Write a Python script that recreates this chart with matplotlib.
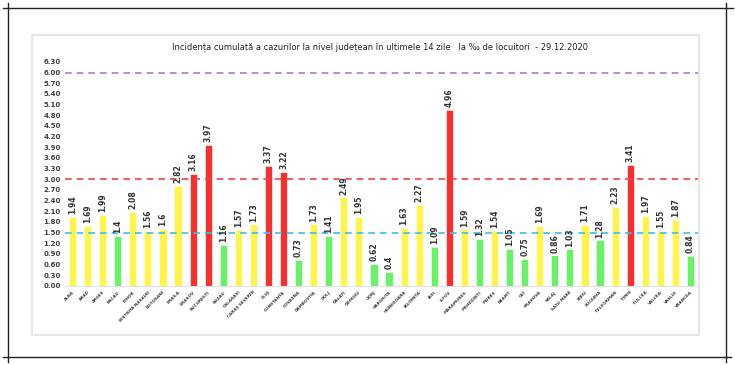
import matplotlib.pyplot as plt
import numpy as np
from matplotlib.lines import Line2D
from matplotlib.patches import Rectangle

judete = ['ALBA', 'ARAD', 'ARGES', 'BACAU', 'BIHOR', 'BISTRITA NASAUD', 'BOTOSANI',
          'BRAILA', 'BRASOV', 'BUCURESTI', 'BUZAU', 'CALARASI', 'CARAS SEVERIN', 'CLUJ',
          'CONSTANTA', 'COVASNA', 'DAMBOVITA', 'DOLJ', 'GALATI', 'GIURGIU', 'GORJ',
          'HARGHITA', 'HUNEDOARA', 'IALOMITA', 'IASI', 'ILFOV', 'MARAMURES', 'MEHEDINTI',
          'MURES', 'NEAMT', 'OLT', 'PRAHOVA', 'SALAJ', 'SATU MARE', 'SIBIU', 'SUCEAVA',
          'TELEORMAN', 'TIMIS', 'TULCEA', 'VALCEA', 'VASLUI', 'VRANCEA']
incidenta = [1.94, 1.69, 1.99, 1.4, 2.08, 1.56, 1.6, 2.82, 3.16, 3.97, 1.16, 1.57, 1.73,
             3.37, 3.22, 0.73, 1.73, 1.41, 2.49, 1.95, 0.62, 0.4, 1.63, 2.27, 1.09, 4.96,
             1.59, 1.32, 1.54, 1.05, 0.75, 1.69, 0.86, 1.03, 1.71, 1.28, 2.23, 3.41, 1.97,
             1.55, 1.87, 0.84]
praguri = [1.5, 3.0, 6.0]
culori_prag = ['#3dbde8', '#ee4444', '#a77bd6']

def culoare(v):
    if v < 1.5:
        return '#6cf06c'
    if v <= 3.0:
        return '#fff44f'
    return '#ee3333'

fig = plt.figure(figsize=(7.35, 3.65), dpi=100)

# chenar exterior + caseta gri a graficului
fig.add_artist(Rectangle((32 / 735, 1 - 335 / 365), 667 / 735, 300 / 365,
                         transform=fig.transFigure, fill=False, edgecolor='#e2e2e2', lw=1.2))
for x0, y0, x1, y1 in [(3, 8, 733, 8), (3, 357, 731, 357), (8, 3, 8, 362), (726, 3, 726, 362)]:
    fig.add_artist(Line2D([x0 / 735, x1 / 735], [1 - y0 / 365, 1 - y1 / 365],
                          transform=fig.transFigure, color='#222222', lw=1.0))

ax = fig.add_axes([65 / 735, 1 - 286 / 365, 633 / 735, 224 / 365])
x = np.arange(len(judete))
ax.bar(x, incidenta, width=0.47, color=[culoare(v) for v in incidenta],
       edgecolor='white', linewidth=0.4, zorder=2)

for xi, v in zip(x, incidenta):
    ax.text(xi, v + 0.08, f'{v:g}', rotation=90, ha='center', va='bottom',
            fontsize=5.5, fontweight='bold', color='#333333', zorder=4)

for p, c in zip(praguri, culori_prag):
    ax.axhline(p, color=c, linestyle=(0, (4, 3)), lw=1.2, zorder=3)

ax.set_xlim(-0.5, len(judete) - 0.5)
ax.set_ylim(0, 6.3)
ax.set_yticks(np.arange(0, 6.31, 0.3))
ax.set_yticklabels([f'{t:.2f}' for t in np.arange(0, 6.31, 0.3)],
                   fontsize=5, fontweight='bold', color='#404040')
ax.set_xticks(x)
ax.set_xticklabels(judete, rotation=45, ha='right', rotation_mode='anchor',
                   fontsize=3, fontweight='bold', color='#404040')
ax.tick_params(length=0, pad=3)
for s in ['top', 'right', 'left']:
    ax.spines[s].set_visible(False)
ax.spines['bottom'].set_color('#e0e0e0')

fig.text(380 / 735, 1 - 47 / 365,
         'Incidența cumulată a cazurilor la nivel județean în ultimele 14 zile   la ‰ de locuitori  - 29.12.2020',
         ha='center', va='center', fontsize=6, color='#222222')

fig.savefig('out.png', dpi=100)
